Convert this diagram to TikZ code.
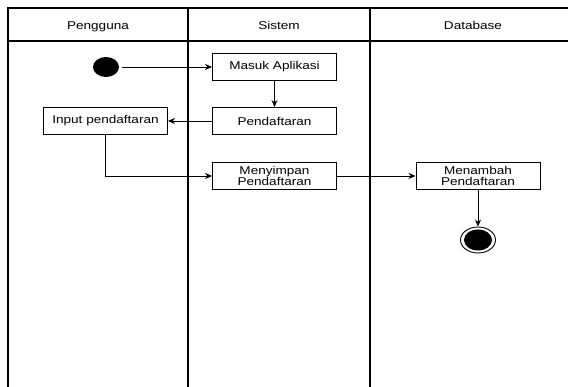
\documentclass[tikz,border=0pt]{standalone}
\usepackage{fontspec}
\setmainfont{Liberation Sans}[FakeStretch=1.2]
\usetikzlibrary{arrows.meta,shapes.geometric}
\begin{document}
\begin{tikzpicture}[x=1pt,y=1pt,
  lane/.style={line width=2pt,draw=black},
  actbox/.style={draw=black,line width=0.9pt,minimum width=124pt,minimum height=27pt,inner sep=0pt,align=center,font=\fontsize{11.3}{11.5}\selectfont},
  lbl/.style={font=\fontsize{11.3}{12}\selectfont,inner sep=0pt,anchor=base},
  flow/.style={line width=0.9pt,-{Stealth[length=7pt,width=6pt]}}]
\useasboundingbox (0,0) rectangle (568,-387);
\fill[white] (0,0) rectangle (568,-387);
\begin{scope}
\clip (0,0) rectangle (568,-387);
\draw[lane] (8,-395) -- (8,-8) -- (580,-8);
\draw[lane] (8,-41) -- (580,-41);
\draw[lane] (188,-8) -- (188,-395);
\draw[lane] (370,-8) -- (370,-395);
\end{scope}
\node[lbl] (hpeng) at (98,-30) {Pengguna};
\node[lbl] (hsis) at (279,-30) {Sistem};
\node[lbl] (hdb) at (473,-30) {Database};
\node[ellipse,fill=black,minimum width=26pt,minimum height=20pt,inner sep=0pt] (start) at (106,-67) {};
\node[actbox] (masuk) at (274.5,-67) {Masuk Aplikasi};
\node[actbox] (pend) at (274.5,-121) {Pendaftaran};
\node[actbox] (input) at (105.5,-121) {Input pendaftaran};
\node[actbox] (simpan) at (274.5,-176) {Menyimpan\\Pendaftaran};
\node[actbox] (tambah) at (478,-176) {Menambah\\Pendaftaran};
\node[ellipse,draw=black,line width=0.9pt,minimum width=35pt,minimum height=26pt,inner sep=0pt] (end) at (478,-240) {};
\node[ellipse,fill=black,minimum width=28pt,minimum height=21pt,inner sep=0pt] (endin) at (478,-240) {};
\draw[flow,shorten <=3pt] (start) -- (masuk);
\draw[flow] (masuk) -- (pend);
\draw[flow] (pend) -- (input);
\draw[flow] (input.south) |- (simpan.west);
\draw[flow] (simpan) -- (tambah);
\draw[flow] (tambah) -- (end);
\end{tikzpicture}
\end{document}
